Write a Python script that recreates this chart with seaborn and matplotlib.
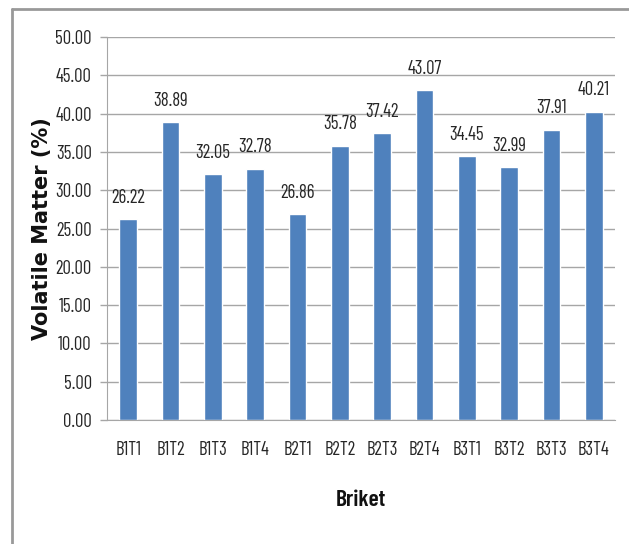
import matplotlib
matplotlib.use("Agg")
import matplotlib.pyplot as plt
from matplotlib.lines import Line2D
import seaborn as sns
import pandas as pd

categories = ["B1T1", "B1T2", "B1T3", "B1T4", "B2T1", "B2T2",
              "B2T3", "B2T4", "B3T1", "B3T2", "B3T3", "B3T4"]
volatile_matter = [26.22, 38.89, 32.05, 32.78, 26.86, 35.78,
                   37.42, 43.07, 34.45, 32.99, 37.91, 40.21]
y_ticks = [0, 5, 10, 15, 20, 25, 30, 35, 40, 45, 50]

df = pd.DataFrame({"Briket": categories, "Volatile Matter (%)": volatile_matter})

sns.set_style("white")
narrow = ["Barlow Condensed", "DejaVu Sans"]
plt.rcParams["font.family"] = narrow

fig = plt.figure(figsize=(6.29, 5.44), dpi=100)
ax = fig.add_axes([107 / 629, 1 - 420 / 544, (615 - 107) / 629, (420 - 37) / 544])

sns.barplot(data=df, x="Briket", y="Volatile Matter (%)", color="#4F81BD",
            width=0.42, saturation=1, ax=ax)

ax.set_ylim(0, 50)
ax.set_xlim(-0.5, len(categories) - 0.5)
ax.set_yticks(y_ticks)
ax.set_yticklabels([f"{t:.2f}" for t in y_ticks], fontsize=13.5, color="#262626")
ax.tick_params(axis="x", labelsize=13.5, colors="#262626", length=0, pad=15)
ax.tick_params(axis="y", length=5, width=1, color="#A6A6A6", pad=6, left=True)

ax.yaxis.grid(True, color="#A6A6A6", linewidth=1)
ax.set_axisbelow(True)
for side in ["top", "right"]:
    ax.spines[side].set_visible(False)
ax.spines["left"].set_color("#A6A6A6")
ax.spines["bottom"].set_color("#A6A6A6")

ax.bar_label(ax.containers[0], fmt="%.2f", padding=9, fontsize=13.5, color="#262626")

ax.set_xlabel("Briket", fontsize=17, fontweight="semibold", color="#111111")
ax.xaxis.label.set_va("center")
ax.xaxis.set_label_coords(0.5, -0.209)

ax.set_ylabel("Volatile Matter (%)", fontsize=15, fontweight="bold",
              family=["DejaVu Sans"], color="#111111")
ax.yaxis.label.set_va("center")
ax.yaxis.set_label_coords(-0.128, 0.5)

# outer chart frame
fig.add_artist(Line2D([12 / 629, 12 / 629], [0, 1 - 9 / 544], transform=fig.transFigure,
                      color="#999999", linewidth=2))
fig.add_artist(Line2D([12 / 629, 1], [1 - 9 / 544, 1 - 9 / 544], transform=fig.transFigure,
                      color="#999999", linewidth=2))

fig.savefig("out.png", dpi=100, facecolor="white")
